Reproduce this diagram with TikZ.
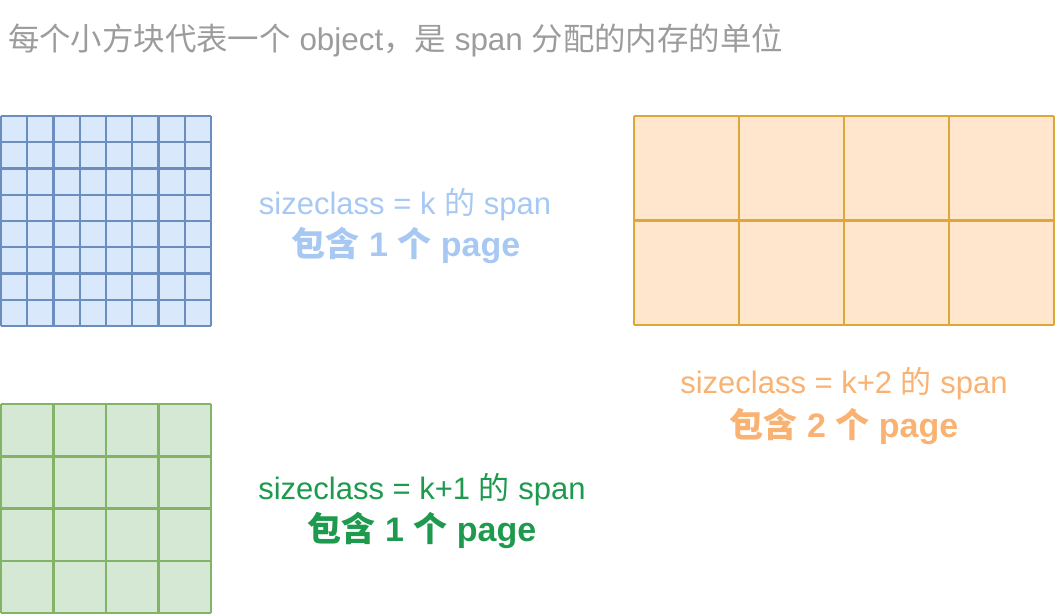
\documentclass[tikz,border=0pt]{standalone}
\usepackage{fontspec}
\setmainfont{Liberation Sans}
\newfontfamily\cjkfont{Noto Sans CJK SC}
\newcommand\zhtxt[1]{{\cjkfont #1}}
\definecolor{titlegray}{HTML}{9C9C9C}
\definecolor{bluefill}{HTML}{DAE8FC}
\definecolor{bluestroke}{HTML}{6C8EBF}
\definecolor{greenfill}{HTML}{D5E8D4}
\definecolor{greenstroke}{HTML}{82B366}
\definecolor{orangefill}{HTML}{FFE6CC}
\definecolor{orangestroke}{HTML}{DCA83A}
\definecolor{bluetext}{HTML}{A6C8F2}
\definecolor{greentext}{HTML}{1E9A4E}
\definecolor{orangetext}{HTML}{F9B271}
\tikzset{
  lineone/.style={font=\fontsize{31}{36}\selectfont, inner sep=0pt},
  linetwo/.style={font=\fontsize{34}{39}\selectfont\bfseries, inner sep=0pt},
  titletext/.style={font=\fontsize{31.4}{36}\selectfont, text=titlegray, inner sep=0pt, anchor=west},
}
\begin{document}
\begin{tikzpicture}[x=1pt,y=-1pt]
\useasboundingbox (0,0) rectangle (1057,615);
% title
\node[titletext] (title) at (8,40) {\zhtxt{每个小方块代表一个} object\zhtxt{，是} span \zhtxt{分配的内存的单位}};
% blue grid 8x8
\fill[bluefill] (1,116) rectangle (211,326);
\foreach \i in {0,...,8} {
  \draw[bluestroke, line width=2.2pt] ({1+26.25*\i},116) -- ({1+26.25*\i},326);
  \draw[bluestroke, line width=2.2pt] (1,{116+26.25*\i}) -- (211,{116+26.25*\i});
}
% green grid 4x4
\fill[greenfill] (1,404) rectangle (211,613);
\foreach \i in {0,...,4} {
  \draw[greenstroke, line width=2.5pt] ({1+52.5*\i},404) -- ({1+52.5*\i},613);
  \draw[greenstroke, line width=2.5pt] (1,{404+52.25*\i}) -- (211,{404+52.25*\i});
}
% orange grid 4x2
\fill[orangefill] (634,116) rectangle (1054,325);
\foreach \i in {0,...,4} {
  \draw[orangestroke, line width=2.8pt] ({634+105*\i},116) -- ({634+105*\i},325);
}
\foreach \j in {0,1,2} {
  \draw[orangestroke, line width=2.8pt] (634,{116+104.5*\j}) -- (1054,{116+104.5*\j});
}
% labels
\node[lineone, text=bluetext] (ka) at (405,205) {sizeclass = k \zhtxt{的} span};
\node[linetwo, text=bluetext] (kb) at (406,245) {\zhtxt{包含} 1 \zhtxt{个} page};
\node[lineone, text=greentext] (k1a) at (422,490) {sizeclass = k+1 \zhtxt{的} span};
\node[linetwo, text=greentext] (k1b) at (422,530) {\zhtxt{包含} 1 \zhtxt{个} page};
\node[lineone, text=orangetext] (k2a) at (844,384) {sizeclass = k+2 \zhtxt{的} span};
\node[linetwo, text=orangetext] (k2b) at (844,426) {\zhtxt{包含} 2 \zhtxt{个} page};
\end{tikzpicture}
\end{document}
